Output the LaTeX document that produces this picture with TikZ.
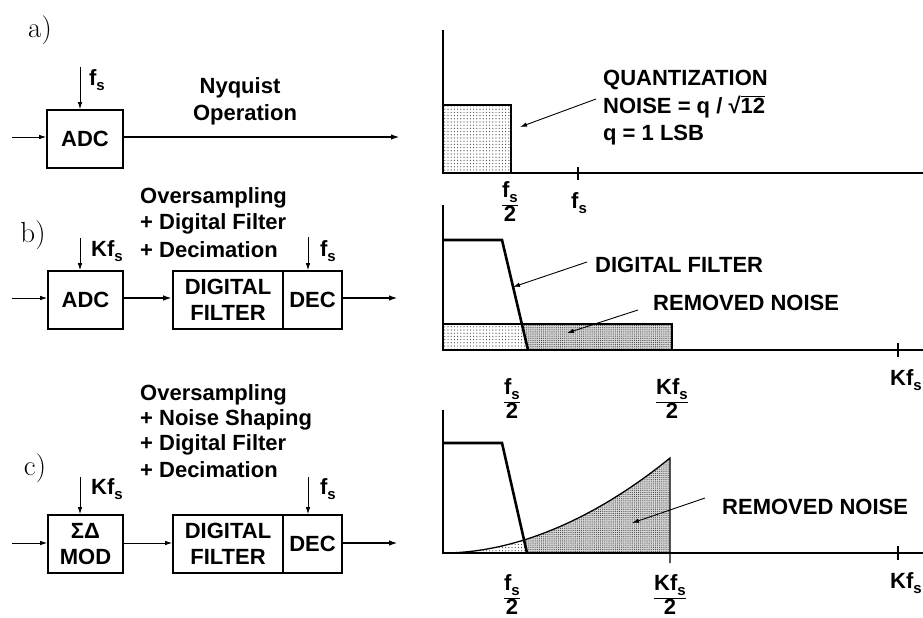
\documentclass[tikz,border=0pt]{standalone}
\usepackage{fontspec}
\newfontfamily\sfb{Liberation Sans}
\newfontfamily\lmr{Latin Modern Roman}
\usetikzlibrary{arrows.meta,patterns.meta}
\newcommand\sbs[1]{\raisebox{-5pt}{\fontsize{15}{15}\selectfont #1}}
\newcommand\frc[1]{{\setlength\arrayrulewidth{1.3pt}\renewcommand\arraystretch{0.85}\begin{tabular}{@{}c@{}}#1\\[1pt]\hline 2\end{tabular}}}
\tikzset{
  txt/.style={font=\sfb\bfseries\fontsize{22}{26}\selectfont, inner sep=0pt},
  lbl/.style={font=\lmr\fontsize{29}{30}\selectfont, inner sep=0pt},
  blk/.style={txt, draw, line width=1.6pt, minimum height=58pt, align=center},
  thin/.style={line width=0.9pt, -{Latex[length=7pt,width=4.5pt]}},
  thick/.style={line width=2.2pt, -{Latex[length=9pt,width=5.5pt]}},
  axis/.style={line width=1.7pt},
  filt/.style={line width=2.6pt, line join=miter},
  light/.style={pattern={Dots[distance=3.2pt,radius=0.6pt]}, pattern color=black!75},
  dense/.style={preaction={fill=gray!30}, pattern={Dots[distance=1.9pt,radius=0.5pt]}, pattern color=black!80},
}
\begin{document}
\begin{tikzpicture}[x=1pt,y=-1pt]
\useasboundingbox (0,0) rectangle (923,618);
% ================= panel a =================
\node[lbl] (la) at (40,30) {a)};
\node[blk, minimum width=76pt] (adca) at (85,139) {ADC};
\coordinate (ina) at (12,137);
\coordinate (fa) at (80,67);
\coordinate (outa) at (400,137);
\draw[thin] (ina) -- (ina -| adca.west);
\draw[thin] (fa) -- (fa |- adca.north);
\node[txt] (fsa) at (97,80) {f\sbs{s}};
\draw[thick] (outa -| adca.east) -- (outa);
\node[txt] (nyq) at (240,88) {Nyquist};
\node[txt] (oper) at (245,115) {Operation};
% graph a
\coordinate (oa) at (443,173);
\coordinate (ya) at (443,30);
\coordinate (xa) at (923,173);
\fill[light] (443,105) rectangle (511,173);
\draw[line width=1.5pt] (443,105) -- (511,105) -- (511,173);
\draw[axis] (ya) -- (oa) -- (xa);
\draw[line width=1.2pt] (578,167) -- (578,180);
\node[txt] (fs2a) at (510,205) {\frc{f\sbs{s}}};
\node[txt] (fsta) at (579,203) {f\sbs{s}};
\node[txt, anchor=west] (qn1) at (603,80) {QUANTIZATION};
\node[txt, anchor=west] (qn2) at (603,107) {NOISE = q / √$\overline{\hbox{12}}$};
\node[txt, anchor=west] (qn3) at (603,135) {q = 1 LSB};
\coordinate (qa1) at (596,99);
\coordinate (qa2) at (520,127);
\draw[thin] (qa1) -- (qa2);
% ================= panel b =================
\node[lbl] (lb) at (33,235) {b)};
\node[blk, minimum width=75pt] (adcb) at (85.5,300) {ADC};
\node[blk, minimum width=110pt] (dfb) at (228,300) {DIGITAL\\FILTER};
\node[blk, minimum width=59pt] (decb) at (312.5,300) {DEC};
\coordinate (inb) at (12,298);
\coordinate (kb) at (80,238);
\coordinate (fb) at (308,237);
\coordinate (outb) at (398,298);
\draw[thin] (inb) -- (inb -| adcb.west);
\draw[thin] (kb) -- (kb |- adcb.north);
\draw[thin] (fb) -- (fb |- decb.north);
\draw[thick] (adcb.east |- inb) -- (dfb.west |- inb);
\draw[thick] (decb.east |- outb) -- (outb);
\node[txt] (kfsb) at (107,251) {Kf\sbs{s}};
\node[txt] (fsb) at (328,251) {f\sbs{s}};
\node[txt, anchor=west] (tb1) at (140,198) {Oversampling};
\node[txt, anchor=west] (tb2) at (140,224) {+ Digital Filter};
\node[txt, anchor=west] (tb3) at (140,250) {+ Decimation};
% graph b
\fill[light] (443,324) -- (521.9,324) -- (528,350) -- (443,350) -- cycle;
\fill[dense] (521.9,324) -- (672,324) -- (672,350) -- (528,350) -- cycle;
\draw[line width=1.3pt] (443,324) -- (672,324) -- (672,350);
\draw[axis] (443,205) -- (443,350) -- (923,350);
\draw[filt] (443,240) -- (502,240) -- (528,350);
\draw[line width=1.2pt] (898,343) -- (898,357);
\node[txt] (kfsbx) at (906,380) {Kf\sbs{s}};
\node[txt] (fs2b) at (512,402) {\frc{f\sbs{s}}};
\node[txt] (kfs2b) at (672,402) {\frc{Kf\sbs{s}}};
\node[txt, anchor=west] (dflab) at (595,265) {DIGITAL FILTER};
\node[txt, anchor=west] (rnb) at (653,303) {REMOVED NOISE};
\coordinate (da1) at (587,262);
\coordinate (da2) at (513,287);
\coordinate (ra1) at (638,310);
\coordinate (ra2) at (567,333);
\draw[thin] (da1) -- (da2);
\draw[thin] (ra1) -- (ra2);
% ================= panel c =================
\node[lbl] (lc) at (35,468) {c)};
\node[blk, minimum width=75pt] (sdm) at (85.5,544) {ΣΔ\\MOD};
\node[blk, minimum width=110pt] (dfc) at (228,544) {DIGITAL\\FILTER};
\node[blk, minimum width=59pt] (decc) at (312.5,544) {DEC};
\coordinate (inc) at (12,543);
\coordinate (kc) at (80,477);
\coordinate (fc) at (308,477);
\coordinate (outc) at (398,543);
\draw[thin] (inc) -- (inc -| sdm.west);
\draw[thin] (kc) -- (kc |- sdm.north);
\draw[thin] (fc) -- (fc |- decc.north);
\draw[thin] (sdm.east |- inc) -- (dfc.west |- inc);
\draw[thick] (decc.east |- outc) -- (outc);
\node[txt] (kfsc) at (107,489) {Kf\sbs{s}};
\node[txt] (fsc) at (328,489) {f\sbs{s}};
\node[txt, anchor=west] (tc1) at (140,395) {Oversampling};
\node[txt, anchor=west] (tc2) at (140,420) {+ Noise Shaping};
\node[txt, anchor=west] (tc3) at (140,445) {+ Digital Filter};
\node[txt, anchor=west] (tc4) at (140,470) {+ Decimation};
% graph c
\begin{scope}
\clip (443,553) .. controls (520,553) and (600,515) .. (670,458) -- (670,553) -- cycle;
\fill[light] (443,430) -- (502,430) -- (529,560) -- (443,560) -- cycle;
\fill[dense] (502,430) -- (680,430) -- (680,560) -- (529,560) -- cycle;
\end{scope}
\draw[line width=1.3pt] (443,553) .. controls (520,553) and (600,515) .. (670,458) -- (670,563);
\draw[axis] (443,410) -- (443,553) -- (923,553);
\draw[filt] (443,443) -- (502,443) -- (527,553);
\draw[line width=1.2pt] (898,546) -- (898,560);
\node[txt] (kfscx) at (906,583) {Kf\sbs{s}};
\node[txt] (fs2c) at (512,598) {\frc{f\sbs{s}}};
\node[txt] (kfs2c) at (670,598) {\frc{Kf\sbs{s}}};
\node[txt, anchor=west] (rnc) at (722,507) {REMOVED NOISE};
\coordinate (rc1) at (705,498);
\coordinate (rc2) at (632,523);
\draw[thin] (rc1) -- (rc2);
\end{tikzpicture}
\end{document}
